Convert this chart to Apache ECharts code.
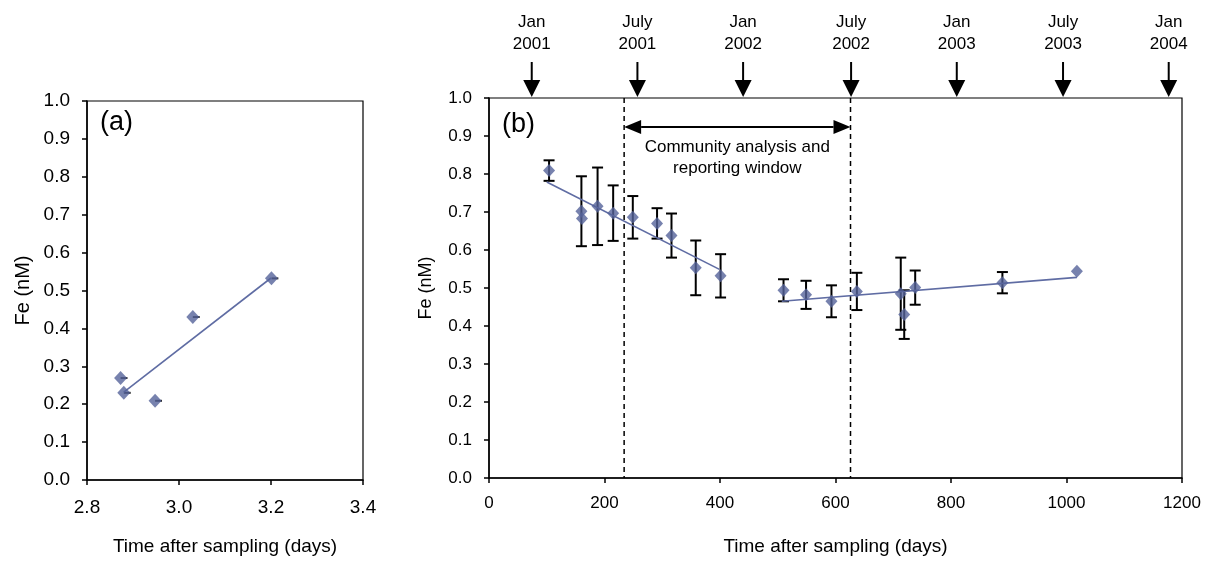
<!DOCTYPE html>
<html>
<head>
<meta charset="utf-8">
<script src="https://cdn.jsdelivr.net/npm/echarts@6/dist/echarts.min.js"></script>
<style>html,body{margin:0;padding:0;background:#fff}#c{width:1208px;height:561px}</style>
</head>
<body>
<div id="c"></div>
<script>
// ---------- Panel (a) data ----------
const aTime = [2.873, 2.880, 2.948, 3.030, 3.201];
const aFe = [0.269, 0.230, 0.209, 0.430, 0.532];
const aTimeErr = [0.015, 0.015, 0.015, 0.015, 0.015];
const aTrendTime = [2.880, 3.200];
const aTrendFe = [0.232, 0.533];
const aXTicks = [2.8, 3.0, 3.2, 3.4];

// ---------- Panel (b) data ----------
const bDays = [104, 160, 161, 188, 215, 249, 291, 316, 358, 401, 510, 549, 593, 637, 713, 719, 738, 889, 1018];
const bFe = [0.809, 0.702, 0.683, 0.715, 0.697, 0.686, 0.670, 0.638, 0.553, 0.532, 0.494, 0.482, 0.465, 0.491, 0.485, 0.430, 0.501, 0.514, 0.544];
const bFeErr = [0.027, 0.092, 0, 0.102, 0.073, 0.056, 0.040, 0.058, 0.072, 0.057, 0.029, 0.037, 0.042, 0.049, 0.095, 0.064, 0.045, 0.028, 0];
const bTrend1Days = [100, 399];
const bTrend1Fe = [0.779, 0.549];
const bTrend2Days = [507, 1018];
const bTrend2Fe = [0.465, 0.528];
const windowDays = [234, 626];
const windowArrowFe = 0.924;
const windowText = ['Community analysis and', 'reporting window'];
const windowTextFe = [0.870, 0.815];
const dateArrowDays = [74, 257, 440, 627, 810, 994, 1177];
const dateArrowLabels = ['Jan\n2001', 'July\n2001', 'Jan\n2002', 'July\n2002', 'Jan\n2003', 'July\n2003', 'Jan\n2004'];

const FONT = '"Liberation Sans", Arial, sans-serif';
const MARK = '#55639a';
const LINE = '#5f6ca3';

const chart = echarts.init(document.getElementById('c'), null, {renderer: 'canvas'});

function errBarV(params, api) {
  const x = api.value(0), y = api.value(1), e = api.value(2);
  if (!e) return null;
  const t = api.coord([x, y + e]), b = api.coord([x, y - e]);
  const w = 5.5;
  const st = {stroke: '#000', lineWidth: 2};
  return {type: 'group', children: [
    {type: 'line', shape: {x1: t[0], y1: t[1], x2: b[0], y2: b[1]}, style: st},
    {type: 'line', shape: {x1: t[0] - w, y1: t[1], x2: t[0] + w, y2: t[1]}, style: st},
    {type: 'line', shape: {x1: b[0] - w, y1: b[1], x2: b[0] + w, y2: b[1]}, style: st}
  ]};
}
function errBarH(params, api) {
  const x = api.value(0), y = api.value(1), e = api.value(2);
  const p = api.coord([x, y]), r = api.coord([x + e, y]);
  return {type: 'line', shape: {x1: p[0], y1: p[1], x2: r[0], y2: r[1]}, style: {stroke: '#222', lineWidth: 2}};
}

const axisCommon = {
  axisLine: {show: true, lineStyle: {color: '#000', width: 1.5}},
  axisTick: {show: true, inside: false, length: 5, lineStyle: {color: '#000', width: 1.5}},
  splitLine: {show: false},
  nameTextStyle: {color: '#000', fontFamily: FONT, fontSize: 19}
};

const option = {
  animation: false,
  backgroundColor: '#fff',
  grid: [
    {left: 87, top: 101, width: 276, height: 383, show: true, borderColor: '#000', borderWidth: 1.2},
    {left: 489, top: 98, width: 693, height: 384, show: true, borderColor: '#000', borderWidth: 1.2},
    {left: 489, top: 0, width: 693, height: 98, show: false}
  ],
  xAxis: [
    Object.assign({}, axisCommon, {gridIndex: 0, type: 'value', min: aXTicks[0], max: aXTicks[aXTicks.length - 1], interval: 0.2,
      name: 'Time after sampling (days)', nameLocation: 'middle', nameGap: 57,
      axisLabel: {color: '#000', fontFamily: FONT, fontSize: 19, margin: 18, formatter: v => v.toFixed(1)}}),
    Object.assign({}, axisCommon, {gridIndex: 1, type: 'value', min: 0, max: 1200, interval: 200,
      name: 'Time after sampling (days)', nameLocation: 'middle', nameGap: 59,
      axisLabel: {color: '#000', fontFamily: FONT, fontSize: 17, margin: 17, formatter: v => String(v)}}),
    {gridIndex: 2, type: 'value', min: 0, max: 1200, show: false}
  ],
  yAxis: [
    Object.assign({}, axisCommon, {gridIndex: 0, type: 'value', min: 0, max: 1, interval: 0.1,
      name: 'Fe (nM)', nameLocation: 'middle', nameGap: 54, nameTextStyle: {color: '#000', fontFamily: FONT, fontSize: 20},
      axisLabel: {color: '#000', fontFamily: FONT, fontSize: 19, margin: 17, formatter: v => v.toFixed(1)}}),
    Object.assign({}, axisCommon, {gridIndex: 1, type: 'value', min: 0, max: 1, interval: 0.1,
      name: 'Fe (nM)', nameLocation: 'middle', nameGap: 54, nameTextStyle: {color: '#000', fontFamily: FONT, fontSize: 18},
      axisLabel: {color: '#000', fontFamily: FONT, fontSize: 17, margin: 17, formatter: v => v.toFixed(1)}}),
    {gridIndex: 2, type: 'value', min: 0, max: 1, show: false}
  ],
  graphic: [
    {type: 'text', left: 100, top: 109, style: {text: '(a)', font: '27px ' + FONT, fill: '#000'}},
    {type: 'text', left: 502, top: 111, style: {text: '(b)', font: '27px ' + FONT, fill: '#000'}}
  ],
  series: [
    // ----- panel (a) -----
    {type: 'custom', xAxisIndex: 0, yAxisIndex: 0, z: 2, renderItem: errBarH,
      data: aTime.map((t, i) => [t, aFe[i], aTimeErr[i]])},
    {type: 'line', xAxisIndex: 0, yAxisIndex: 0, z: 3, showSymbol: false, symbol: 'none',
      lineStyle: {color: LINE, width: 1.6}, data: aTrendTime.map((t, i) => [t, aTrendFe[i]])},
    {type: 'scatter', xAxisIndex: 0, yAxisIndex: 0, z: 4, symbol: 'diamond', symbolSize: [13, 14],
      itemStyle: {color: MARK}, data: aTime.map((t, i) => [t, aFe[i]])},
    // ----- panel (b) -----
    {type: 'custom', xAxisIndex: 1, yAxisIndex: 1, z: 2, renderItem: errBarV,
      data: bDays.map((d, i) => [d, bFe[i], bFeErr[i]])},
    {type: 'line', xAxisIndex: 1, yAxisIndex: 1, z: 3, showSymbol: false, symbol: 'none',
      lineStyle: {color: LINE, width: 1.6}, data: bTrend1Days.map((d, i) => [d, bTrend1Fe[i]])},
    {type: 'line', xAxisIndex: 1, yAxisIndex: 1, z: 3, showSymbol: false, symbol: 'none',
      lineStyle: {color: LINE, width: 1.6}, data: bTrend2Days.map((d, i) => [d, bTrend2Fe[i]])},
    {type: 'scatter', xAxisIndex: 1, yAxisIndex: 1, z: 4, symbol: 'diamond', symbolSize: [12, 13],
      itemStyle: {color: MARK}, data: bDays.map((d, i) => [d, bFe[i]])},
    // window dashed lines
    {type: 'custom', xAxisIndex: 1, yAxisIndex: 1, z: 1,
      data: windowDays.map(d => [d]),
      renderItem: (params, api) => {
        const x = api.value(0);
        const t = api.coord([x, 1]), b = api.coord([x, 0]);
        return {type: 'line', shape: {x1: t[0], y1: t[1], x2: b[0], y2: b[1]},
          style: {stroke: '#000', lineWidth: 1.5, lineDash: [5, 4]}};
      }},
    // window double arrow and text
    {type: 'custom', xAxisIndex: 1, yAxisIndex: 1, z: 5,
      data: [[windowDays[0], windowDays[1], windowArrowFe]],
      renderItem: (params, api) => {
        const l = api.coord([api.value(0), api.value(2)]);
        const r = api.coord([api.value(1), api.value(2)]);
        const hl = 17, hh = 7;
        const mid = (api.value(0) + api.value(1)) / 2;
        const p1 = api.coord([mid, windowTextFe[0]]), p2 = api.coord([mid, windowTextFe[1]]);
        return {type: 'group', children: [
          {type: 'line', shape: {x1: l[0] + hl, y1: l[1], x2: r[0] - hl, y2: r[1]}, style: {stroke: '#000', lineWidth: 2}},
          {type: 'polygon', shape: {points: [[l[0], l[1]], [l[0] + hl, l[1] - hh], [l[0] + hl, l[1] + hh]]}, style: {fill: '#000'}},
          {type: 'polygon', shape: {points: [[r[0], r[1]], [r[0] - hl, r[1] - hh], [r[0] - hl, r[1] + hh]]}, style: {fill: '#000'}},
          {type: 'text', x: p1[0], y: p1[1], style: {text: windowText[0], font: '17px ' + FONT, fill: '#000', align: 'center', verticalAlign: 'middle'}},
          {type: 'text', x: p2[0], y: p2[1], style: {text: windowText[1], font: '17px ' + FONT, fill: '#000', align: 'center', verticalAlign: 'middle'}}
        ]};
      }},
    // top date arrows
    {type: 'custom', xAxisIndex: 2, yAxisIndex: 2, z: 5,
      data: dateArrowDays.map(d => [d, 0]),
      renderItem: (params, api) => {
        const p = api.coord([api.value(0), api.value(1)]);
        const x = p[0], y = p[1];
        return {type: 'group', children: [
          {type: 'line', shape: {x1: x, y1: y - 36, x2: x, y2: y - 17}, style: {stroke: '#000', lineWidth: 2}},
          {type: 'polygon', shape: {points: [[x - 8.5, y - 18], [x + 8.5, y - 18], [x, y - 1]]}, style: {fill: '#000'}},
          {type: 'text', x: x, y: y - 65, style: {text: dateArrowLabels[params.dataIndex], font: '17px ' + FONT,
            lineHeight: 22, fill: '#000', align: 'center', verticalAlign: 'middle'}}
        ]};
      }}
  ]
};
chart.setOption(option);
</script>
</body>
</html>
